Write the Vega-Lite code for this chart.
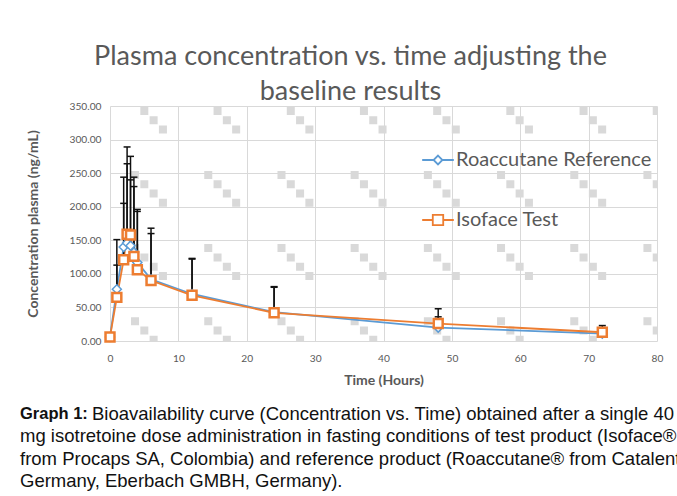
{
  "$schema": "https://vega.github.io/schema/vega-lite/v6.json",
  "padding": {"left": 20, "top": 43, "right": 0, "bottom": 0},
  "bounds": "flush",
  "spacing": 73,
  "background": "white",
  "config": {
    "view": {"stroke": null},
    "font": "Lato",
    "axis": {
      "domain": false,
      "ticks": false,
      "labelFlush": false,
      "gridColor": "#d9d9d9",
      "gridWidth": 1,
      "labelFont": "Lato",
      "labelFontSize": 10.2,
      "labelColor": "#595959",
      "titleFont": "Lato",
      "titleFontSize": 14,
      "titleColor": "#595959",
      "titleFontWeight": "bold"
    }
  },
  "datasets": {
    "pk": [
      {"series": "Roaccutane Reference", "time": 0, "conc": 6, "upper": 6},
      {"series": "Roaccutane Reference", "time": 1, "conc": 77, "upper": 151},
      {"series": "Roaccutane Reference", "time": 2, "conc": 140, "upper": 244},
      {"series": "Roaccutane Reference", "time": 2.5, "conc": 146, "upper": 289},
      {"series": "Roaccutane Reference", "time": 3, "conc": 142, "upper": 275},
      {"series": "Roaccutane Reference", "time": 3.5, "conc": 132, "upper": 244},
      {"series": "Roaccutane Reference", "time": 4, "conc": 117, "upper": 196},
      {"series": "Roaccutane Reference", "time": 6, "conc": 92, "upper": 168},
      {"series": "Roaccutane Reference", "time": 12, "conc": 70, "upper": 123},
      {"series": "Roaccutane Reference", "time": 24, "conc": 43, "upper": 81},
      {"series": "Roaccutane Reference", "time": 48, "conc": 20, "upper": 36},
      {"series": "Roaccutane Reference", "time": 72, "conc": 11, "upper": 20},
      {"series": "Isoface Test", "time": 0, "conc": 6, "upper": 6},
      {"series": "Isoface Test", "time": 1, "conc": 65, "upper": 113},
      {"series": "Isoface Test", "time": 2, "conc": 121, "upper": 205},
      {"series": "Isoface Test", "time": 2.5, "conc": 159, "upper": 264},
      {"series": "Isoface Test", "time": 3, "conc": 158, "upper": 240},
      {"series": "Isoface Test", "time": 3.5, "conc": 126, "upper": 230},
      {"series": "Isoface Test", "time": 4, "conc": 106, "upper": 193},
      {"series": "Isoface Test", "time": 6, "conc": 90, "upper": 160},
      {"series": "Isoface Test", "time": 12, "conc": 68, "upper": 122},
      {"series": "Isoface Test", "time": 24, "conc": 42, "upper": 80},
      {"series": "Isoface Test", "time": 48, "conc": 26, "upper": 48},
      {"series": "Isoface Test", "time": 72, "conc": 13, "upper": 23}
    ],
    "pattern": [
      {"t": 5.70, "c": 335.6}, {"t": 16.41, "c": 335.6}, {"t": 27.12, "c": 335.6}, {"t": 37.82, "c": 335.6},
      {"t": 48.53, "c": 335.6}, {"t": 59.23, "c": 335.6}, {"t": 69.94, "c": 335.6}, {"t": 80.64, "c": 335.6},
      {"t": 5.70, "c": 226.6}, {"t": 16.41, "c": 226.6}, {"t": 27.12, "c": 226.6}, {"t": 37.82, "c": 226.6},
      {"t": 48.53, "c": 226.6}, {"t": 59.23, "c": 226.6}, {"t": 69.94, "c": 226.6}, {"t": 80.64, "c": 226.6},
      {"t": 5.70, "c": 117.6}, {"t": 16.41, "c": 117.6}, {"t": 27.12, "c": 117.6}, {"t": 37.82, "c": 117.6},
      {"t": 48.53, "c": 117.6}, {"t": 59.23, "c": 117.6}, {"t": 69.94, "c": 117.6}, {"t": 80.64, "c": 117.6},
      {"t": 5.70, "c": 8.6}, {"t": 16.41, "c": 8.6}, {"t": 27.12, "c": 8.6}, {"t": 37.82, "c": 8.6},
      {"t": 48.53, "c": 8.6}, {"t": 59.23, "c": 8.6}, {"t": 69.94, "c": 8.6}, {"t": 80.64, "c": 8.6}
    ],
    "caption": [
      {"line": 1, "part": "bold", "text": "Graph 1:"},
      {"line": 1, "part": "first", "text": "Bioavailability curve (Concentration vs. Time) obtained after a single 40"},
      {"line": 2, "part": "rest", "text": "mg isotretoine dose administration in fasting conditions of test product (Isoface®"},
      {"line": 3, "part": "rest", "text": "from Procaps SA, Colombia) and reference product (Roaccutane® from Catalent"},
      {"line": 4, "part": "rest", "text": "Germany, Eberbach GMBH, Germany)."}
    ]
  },
  "vconcat": [
    {
      "width": 547,
      "height": 235,
      "title": {
        "text": ["Plasma concentration vs. time adjusting the", "baseline results"],
        "font": "Lato",
        "fontSize": 27,
        "fontWeight": "normal",
        "color": "#595959",
        "lineHeight": 35,
        "anchor": "middle",
        "dx": -33,
        "offset": -5
      },
      "encoding": {
        "x": {
          "field": "time", "type": "quantitative",
          "scale": {"domain": [0, 80], "nice": false},
          "axis": {"values": [0, 10, 20, 30, 40, 50, 60, 70, 80], "title": "Time (Hours)", "labelPadding": 12, "titlePadding": 10}
        },
        "y": {
          "field": "conc", "type": "quantitative",
          "scale": {"domain": [0, 350], "nice": false},
          "axis": {"values": [0, 50, 100, 150, 200, 250, 300, 350], "format": ".2f", "title": "Concentration plasma (ng/mL)", "labelPadding": 9, "titlePadding": 29}
        }
      },
      "layer": [
        {
          "data": {"name": "pattern"},
          "mark": {"type": "point", "filled": true, "clip": true, "shape": "M-1,-1h0.446v0.446h-0.446z M-0.482,-0.482h0.446v0.446h-0.446z M0.036,0.036h0.446v0.446h-0.446z M0.554,0.554h0.446v0.446h-0.446z", "size": 1289, "color": "#d9d9d9", "opacity": 1, "strokeWidth": 0},
          "encoding": {
            "x": {"field": "t", "type": "quantitative"},
            "y": {"field": "c", "type": "quantitative"}
          }
        },
        {
          "data": {"name": "pk"},
          "transform": [{"filter": "datum.series === 'Roaccutane Reference'"}],
          "mark": {"type": "line", "strokeWidth": 1.8},
          "encoding": {
            "stroke": {
              "field": "series", "type": "nominal",
              "scale": {"domain": ["Roaccutane Reference", "Isoface Test"], "range": ["#5b9bd5", "#ed7d31"]},
              "legend": {
                "orient": "none", "legendX": 311, "legendY": 37, "title": null, "padding": 0,
                "labelFont": "Lato", "labelFontSize": 20, "labelColor": "#595959", "labelOffset": 1, "labelLimit": 400,
                "symbolSize": 1000, "symbolStrokeWidth": 1.8, "rowPadding": 33,
                "encode": {
                  "symbols": {
                    "update": {
                      "shape": {"signal": "datum.value === 'Isoface Test' ? 'M-1,0H-0.33M0.33,0H1M-0.33,-0.33H0.33V0.33H-0.33Z' : 'M-1,0H-0.28M0.28,0H1M0,-0.28L0.28,0L0,0.28L-0.28,0Z'"},
                      "fill": {"value": "white"},
                      "fillOpacity": {"value": 1}
                    }
                  }
                }
              }
            }
          }
        },
        {
          "data": {"name": "pk"},
          "transform": [{"filter": "datum.series === 'Isoface Test'"}],
          "mark": {"type": "line", "strokeWidth": 1.8},
          "encoding": {"stroke": {"field": "series", "type": "nominal"}}
        },
        {
          "data": {"name": "pk"},
          "mark": {"type": "rule", "color": "#111111", "strokeWidth": 1.5},
          "encoding": {"y2": {"field": "upper"}}
        },
        {
          "data": {"name": "pk"},
          "mark": {"type": "point", "filled": false, "shape": "M-1,0H1", "size": 49, "color": "#111111", "strokeWidth": 1.5, "opacity": 1},
          "encoding": {"y": {"field": "upper", "type": "quantitative"}}
        },
        {
          "data": {"name": "pk"},
          "transform": [{"filter": "datum.series === 'Roaccutane Reference'"}],
          "mark": {"type": "point", "filled": true, "shape": "diamond", "size": 81, "fill": "white", "strokeWidth": 1.5, "opacity": 1},
          "encoding": {"stroke": {"field": "series", "type": "nominal"}}
        },
        {
          "data": {"name": "pk"},
          "transform": [{"filter": "datum.series === 'Isoface Test'"}],
          "mark": {"type": "point", "filled": true, "shape": "square", "size": 80, "fill": "white", "strokeWidth": 2.5, "opacity": 1},
          "encoding": {"stroke": {"field": "series", "type": "nominal"}}
        }
      ]
    },
    {
      "width": 547,
      "height": 67,
      "data": {"name": "caption"},
      "encoding": {
        "y": {"field": "line", "type": "ordinal", "axis": null, "scale": {"type": "point", "padding": 0}},
        "text": {"field": "text"}
      },
      "layer": [
        {
          "transform": [{"filter": "datum.part === 'bold'"}],
          "mark": {"type": "text", "x": -90, "align": "left", "baseline": "middle", "font": "Liberation Sans", "fontSize": 16.5, "fontWeight": "bold", "color": "#111111"}
        },
        {
          "transform": [{"filter": "datum.part === 'first'"}],
          "mark": {"type": "text", "x": -18, "align": "left", "baseline": "middle", "font": "Liberation Sans", "fontSize": 18.5, "color": "#111111"}
        },
        {
          "transform": [{"filter": "datum.part === 'rest'"}],
          "mark": {"type": "text", "x": -90, "align": "left", "baseline": "middle", "font": "Liberation Sans", "fontSize": 18.5, "color": "#111111"}
        }
      ]
    }
  ]
}
